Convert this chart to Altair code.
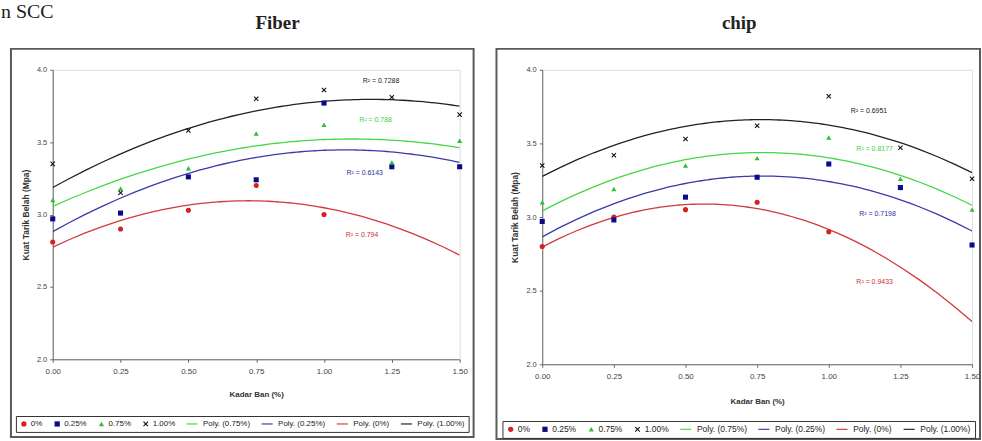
import altair as alt
import pandas as pd

# ---------------- data ----------------
kadar = [0.0, 0.25, 0.5, 0.75, 1.0, 1.25, 1.5]
series_names = ["0%", "0.25%", "0.75%", "1.00%"]

# Fiber panel (0% series has points only up to 1.00)
fiber_0 = [2.81, 2.90, 3.03, 3.20, 3.00]
fiber_025 = [2.97, 3.01, 3.26, 3.24, 3.77, 3.33, 3.33]
fiber_075 = [3.10, 3.18, 3.32, 3.56, 3.62, 3.36, 3.51]
fiber_100 = [3.35, 3.15, 3.58, 3.80, 3.86, 3.81, 3.69]

# chip panel
chip_0 = [2.80, 3.00, 3.05, 3.10, 2.90]
chip_025 = [2.97, 2.98, 3.135, 3.27, 3.36, 3.20, 2.81]
chip_075 = [3.10, 3.19, 3.35, 3.40, 3.54, 3.26, 3.05]
chip_100 = [3.35, 3.42, 3.53, 3.62, 3.82, 3.47, 3.26]

# R-squared labels (series order: 0%, 0.25%, 0.75%, 1.00%)
fiber_r2 = ["0.794", "0.6143", "0.788", "0.7288"]
fiber_r2_x = [1.14, 1.15, 1.19, 1.21]
fiber_r2_y = [2.86, 3.285, 3.65, 3.92]
chip_r2 = ["0.9433", "0.7198", "0.8177", "0.6951"]
chip_r2_x = [1.16, 1.17, 1.16, 1.14]
chip_r2_y = [2.56, 3.02, 3.46, 3.72]

panel_titles = ["Fiber", "chip"]
corner_text = "n SCC"

legend_labels = ["0%", "0.25%", "0.75%", "1.00%",
                 "Poly. (0.75%)", "Poly. (0.25%)", "Poly. (0%)", "Poly. (1.00%)"]
legend_colors = ["#d42222", "#0a0a8a", "#2fbf2f", "#111111",
                 "#44d844", "#3a3aaa", "#d23a3a", "#222222"]
X_PATH = ("M-1,-0.7L-0.7,-1L0,-0.3L0.7,-1L1,-0.7L0.3,0L1,0.7L0.7,1L0,0.3"
          "L-0.7,1L-1,0.7L-0.3,0Z")
LINE_PATH = "M-3.6,-0.22L0.6,-0.22L0.6,0.22L-3.6,0.22Z"
legend_shapes = ["circle", "square", "triangle-up", X_PATH,
                 LINE_PATH, LINE_PATH, LINE_PATH, LINE_PATH]
r2_colors = ["#c83030", "#2e2e9a", "#44cf44", "#222222"]


def points_frame(vals):
    rows = []
    for name, ys in zip(series_names, vals):
        for xv, yv in zip(kadar, ys):
            rows.append({"series": name, "label": name, "x": xv, "y": yv})
    return pd.DataFrame(rows)


def r2_frame(vals, xs, ys):
    return pd.DataFrame({
        "series": series_names,
        "txt": ["R\u00b2 = " + v for v in vals],
        "col": r2_colors,
        "x": xs, "y": ys,
    })


FONT = "Liberation Sans"


def panel(vals, r2df, title, w, h, title_x, lx, ly, box, leg_font, leg_pad,
          x_title_pad, extra=None):
    df = points_frame(vals)
    xs = alt.Scale(domain=[0, 1.5], nice=False, zero=False)
    ys = alt.Scale(domain=[2.0, 4.0], nice=False, zero=False)
    color_scale = alt.Scale(domain=legend_labels, range=legend_colors)
    shape_scale = alt.Scale(domain=legend_labels, range=legend_shapes)
    leg = alt.Legend(orient="none", legendX=lx, legendY=ly, direction="horizontal",
                     columns=8, title=None, labelFont=FONT, labelFontSize=leg_font,
                     labelColor="#222", symbolSize=28, strokeColor="#333",
                     padding=4, columnPadding=leg_pad, labelOffset=3,
                     symbolStrokeWidth=0)
    xaxis = alt.Axis(values=kadar, format=".2f", labelFont=FONT, labelFontSize=8,
                     labelColor="#444", tickColor="#666", domainColor="#666",
                     tickSize=3, grid=False, labelPadding=5, labelFlush=False,
                     title="Kadar Ban (%)", titleFont=FONT, titleFontSize=8,
                     titleFontWeight="bold", titleColor="#333",
                     titlePadding=x_title_pad)
    yaxis = alt.Axis(values=[2.0, 2.5, 3.0, 3.5, 4.0], format=".1f",
                     labelFont=FONT, labelFontSize=7.5, labelColor="#444",
                     tickColor="#666", domainColor="#666", tickSize=3,
                     grid=False, labelPadding=3, labelFlush=False,
                     title="Kuat Tarik Belah (Mpa)", titleFont=FONT,
                     titleFontSize=8.5, titleFontWeight="bold",
                     titleColor="#333", titlePadding=6)
    base = alt.Chart(df)
    lines = base.transform_regression(
        "x", "y", groupby=["series"], method="poly", order=2, extent=[0, 1.5]
    ).transform_calculate(
        label="'Poly. (' + datum.series + ')'"
    ).mark_line(strokeWidth=1.3, clip=True).encode(
        x=alt.X("x:Q", scale=xs, axis=xaxis),
        y=alt.Y("y:Q", scale=ys, axis=yaxis),
        color=alt.Color("label:N", scale=color_scale, legend=leg),
    )
    pts = base.mark_point(filled=True, size=26, opacity=1).encode(
        x=alt.X("x:Q", scale=xs, axis=xaxis),
        y=alt.Y("y:Q", scale=ys, axis=yaxis),
        color=alt.Color("label:N", scale=color_scale, legend=leg),
        shape=alt.Shape("label:N", scale=shape_scale, legend=leg),
    )
    txt = alt.Chart(r2df).mark_text(font=FONT, fontSize=7).encode(
        x="x:Q", y="y:Q", text="txt:N",
        fill=alt.Fill("col:N", scale=None),
    )
    frame = alt.Chart(alt.Data(values=[{}])).mark_rect(
        fillOpacity=0, stroke="#5a5a5a", strokeWidth=2
    ).encode(x=alt.value(box[0]), x2=alt.value(box[1]),
             y=alt.value(box[2]), y2=alt.value(box[3]))
    ttl = alt.Chart(alt.Data(values=[{"t": title}])).mark_text(
        font="Liberation Serif", fontSize=19, fontWeight="bold", color="#222",
        align="center", baseline="alphabetic"
    ).encode(x=alt.value(title_x), y=alt.value(-41), text="t:N")
    layers = [frame, lines, pts, txt, ttl]
    if extra is not None:
        layers.append(extra)
    return alt.layer(*layers).properties(width=w, height=h)


corner = alt.Chart(alt.Data(values=[{"t": corner_text}])).mark_text(
    font="Liberation Serif", fontSize=20, align="left", baseline="alphabetic",
    color="#222"
).encode(x=alt.value(-52), y=alt.value(-52), text="t:N")

left = panel([fiber_0, fiber_025, fiber_075, fiber_100],
             r2_frame(fiber_r2, fiber_r2_x, fiber_r2_y),
             panel_titles[0], 409, 291, 226, -37, 348, (-42, 423, -21, 369),
             8, 10.5, 15, corner)
right = panel([chip_0, chip_025, chip_075, chip_100],
              r2_frame(chip_r2, chip_r2_x, chip_r2_y),
              panel_titles[1], 432, 296, 198, -40, 353, (-46, 440, -21, 371),
              8.5, 10.5, 17)

chart = alt.hconcat(left, right, spacing=19).resolve_scale(
    color="independent", shape="independent"
).resolve_legend(color="independent", shape="independent").properties(
    padding=0
).configure_view(stroke="#b8b8b8", strokeWidth=1).configure(
    background="white"
)

chart.save("out.html", embed_options={"renderer": "svg", "actions": False})
